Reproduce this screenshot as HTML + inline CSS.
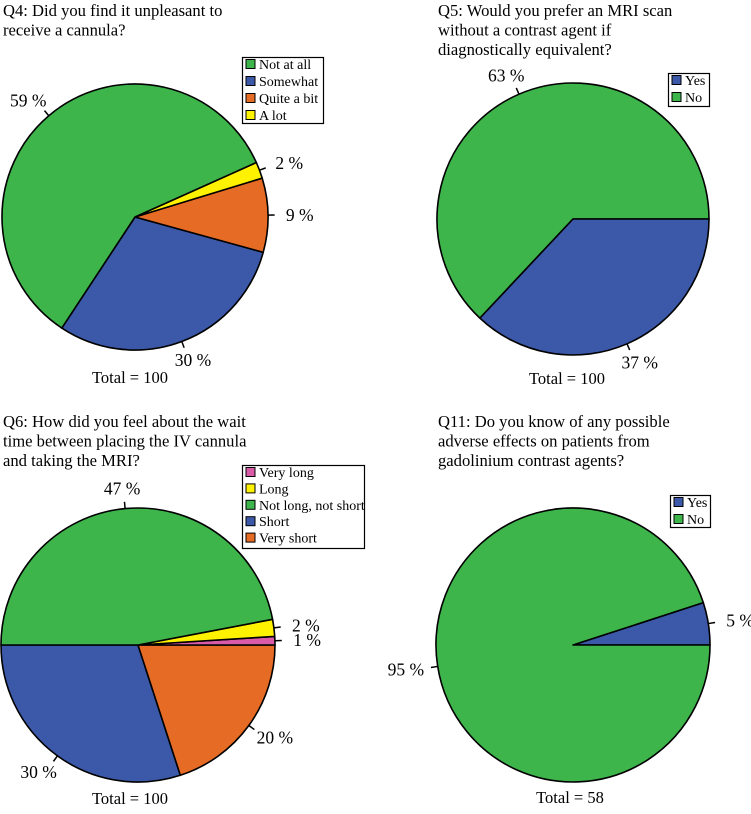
<!DOCTYPE html>
<html><head><meta charset="utf-8"><style>
html,body{margin:0;padding:0;background:#fff;}
svg{display:block;font-family:"Liberation Serif",serif;}
</style></head><body>
<svg id="chart" width="751" height="814" viewBox="0 0 751 814" xmlns="http://www.w3.org/2000/svg"></svg>
<script>
// Q4
const q4Categories = ["Somewhat","Quite a bit","A lot","Not at all"];
const q4Values = [30, 9, 2, 59];
const q4Legend = ["Not at all","Somewhat","Quite a bit","A lot"];
// Q5
const q5Categories = ["No","Yes"];
const q5Values = [63, 37];
const q5Legend = ["Yes","No"];
// Q6
const q6Categories = ["Short","Very short","Very long","Long","Not long, not short"];
const q6Values = [30, 20, 1, 2, 47];
const q6Legend = ["Very long","Long","Not long, not short","Short","Very short"];
// Q11
const q11Categories = ["Yes","No"];
const q11Values = [5, 95];
const q11Legend = ["Yes","No"];
const totals = [100, 100, 100, 58];

const COL = {"Not at all":"#3db54a","Somewhat":"#3b59a8","Quite a bit":"#e66b25","A lot":"#fff200",
 "Yes":"#3b59a8","No":"#3db54a","Very long":"#d95aa6","Long":"#fff200","Not long, not short":"#3db54a",
 "Short":"#3b59a8","Very short":"#e66b25"};
const NS="http://www.w3.org/2000/svg";
const svg=document.getElementById('chart');
function mk(tag,attrs,parent){const e=document.createElementNS(NS,tag);for(const k in attrs)e.setAttribute(k,attrs[k]);(parent||svg).appendChild(e);return e;}

const charts=[
 {id:"q4",cats:q4Categories,vals:q4Values,leg:q4Legend,total:totals[0],cx:135,cy:217,r:133,start:236.6,
  title:["Q4: Did you find it unpleasant to","receive a cannula?"],tx:3,ty:16,
  lg:{x:242,y:57,w:81,h:66,row:17},totX:130,totY:383},
 {id:"q5",cats:q5Categories,vals:q5Values,leg:q5Legend,total:totals[1],cx:573,cy:219,r:136,start:0,
  title:["Q5: Would you prefer an MRI scan","without a contrast agent if","diagnostically equivalent?"],tx:438,ty:16,
  lg:{x:668,y:73,w:41,h:33,row:17},totX:567,totY:384},
 {id:"q6",cats:q6Categories,vals:q6Values,leg:q6Legend,total:totals[2],cx:138,cy:645,r:137,start:180,
  title:["Q6: How did you feel about the wait","time between placing the IV cannula","and taking the MRI?"],tx:3,ty:427,
  lg:{x:242,y:465,w:122,h:83,row:16.4},totX:130,totY:804},
 {id:"q11",cats:q11Categories,vals:q11Values,leg:q11Legend,total:totals[3],cx:573,cy:645,r:137,start:0,
  title:["Q11: Do you know of any possible","adverse effects on patients from","gadolinium contrast agents?"],tx:438,ty:427,
  lg:{x:670,y:495,w:40,h:32,row:17},totX:570,totY:803}
];

function pt(c,a,k){const rad=a*Math.PI/180;return [c.cx+k*c.r*Math.cos(rad), c.cy-k*c.r*Math.sin(rad)];}

charts.forEach(c=>{
  const g=mk('g',{});
  
  
  c.title.forEach((line,i)=>{
    const t=mk('text',{x:c.tx,y:c.ty+i*19.5,'font-size':'16.6'},g);
    
    
    t.textContent=line;
  });
  const sum=c.vals.reduce((a,b)=>a+b,0);
  let a0=c.start;
  c.vals.forEach((v,i)=>{
    const sweep=v/sum*360, a1=a0+sweep;
    const p0=pt(c,a0,1), p1=pt(c,a1,1);
    const large=sweep>180?1:0;
    const p=mk('path',{d:`M${c.cx},${c.cy} L${p0[0]},${p0[1]} A${c.r},${c.r} 0 ${large} 0 ${p1[0]},${p1[1]} Z`,
      fill:COL[c.cats[i]],stroke:'#000','stroke-width':'1.6','stroke-linejoin':'round'},g);
    
    
    const mid=(a0+a1)/2;
    const q0=pt(c,mid,1), q1=pt(c,mid,1.05), ql=pt(c,mid,1.1);
    const tk=mk('line',{x1:q0[0],y1:q0[1],x2:q1[0],y2:q1[1],stroke:'#000','stroke-width':'1.5'},g);
    
    
    const cs=Math.cos(mid*Math.PI/180), sn=Math.sin(mid*Math.PI/180);
    const lx=ql[0]+18.5*cs, ly=ql[1]-6.5*sn;
    const lt=mk('text',{x:lx,y:ly+6,'font-size':'17.5','text-anchor':'middle'},g);
    
    
    lt.textContent=v+' %';
    a0=a1;
  });
  const L=c.lg;
  const box=mk('rect',{x:L.x+0.5,y:L.y+0.5,width:L.w,height:L.h,fill:'#fff',stroke:'#000','stroke-width':'1.2'},g);
  
  
  c.leg.forEach((name,i)=>{
    const base=L.y+12+i*L.row;
    const sw=mk('rect',{x:L.x+4,y:base-9.5,width:9,height:9,fill:COL[name],stroke:'#000','stroke-width':'1'},g);
    
    
    const t=mk('text',{x:L.x+17,y:base,'font-size':'14'},g);
    
    
    t.textContent=name;
  });
  const tt=mk('text',{x:c.totX,y:c.totY,'font-size':'16.5','text-anchor':'middle'},g);
  
  
  tt.textContent='Total = '+c.total;
});
</script>
</body></html>
